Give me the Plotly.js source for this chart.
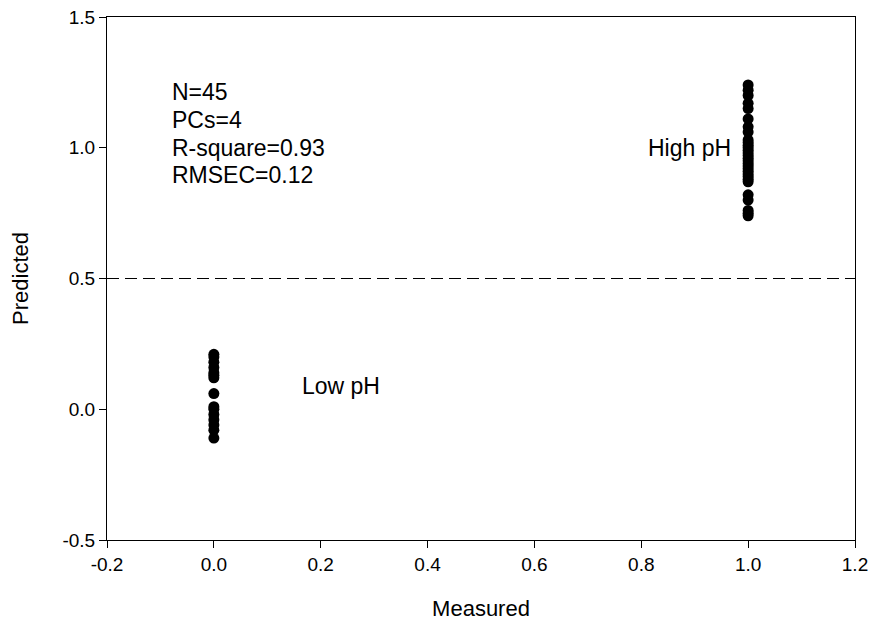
<!DOCTYPE html>
<html>
<head>
<meta charset="utf-8">
<script src="https://cdn.plot.ly/plotly-3.0.1.min.js"></script>
<style>html,body{margin:0;padding:0;background:#fff;}#chart{width:875px;height:631px;}</style>
</head>
<body>
<div id="chart"></div>
<script>
// Measured class (0 = low pH, 1 = high pH) and predicted values
const lowMeasured = 0;
const lowPredicted = [0.21, 0.20, 0.18, 0.16, 0.14, 0.13, 0.12, 0.06, 0.01, 0.00, -0.02, -0.04, -0.06, -0.08, -0.11];
const highMeasured = 1;
const highPredicted = [1.24, 1.22, 1.20, 1.17, 1.15, 1.11, 1.08, 1.06, 1.03, 1.02, 1.01, 1.00, 0.99, 0.98, 0.97,
                       0.96, 0.95, 0.94, 0.93, 0.92, 0.91, 0.90, 0.89, 0.88, 0.87, 0.82, 0.80, 0.76, 0.75, 0.74];
const threshold = 0.5;
const xTickVals = [-0.2, 0.0, 0.2, 0.4, 0.6, 0.8, 1.0, 1.2];
const xTickText = ["-0.2", "0.0", "0.2", "0.4", "0.6", "0.8", "1.0", "1.2"];
const yTickVals = [-0.5, 0.0, 0.5, 1.0, 1.5];
const yTickText = ["-0.5", "0.0", "0.5", "1.0", "1.5"];
const statsLines = ["N=45", "PCs=4", "R-square=0.93", "RMSEC=0.12"];

const font = "Liberation Sans, Arial, sans-serif";
const xs = [];
const ys = [];
lowPredicted.forEach(v => { xs.push(lowMeasured); ys.push(v); });
highPredicted.forEach(v => { xs.push(highMeasured); ys.push(v); });

const trace = {
  x: xs, y: ys, type: 'scatter', mode: 'markers',
  marker: {color: '#000', size: 11, line: {width: 0}},
  showlegend: false, hoverinfo: 'none'
};

const annSize = 23;
const statsY = [1.214, 1.107, 1.000, 0.897];
const annotations = statsLines.map((t, i) => ({
  text: t, x: -0.082, y: statsY[i], xref: 'x', yref: 'y',
  xanchor: 'left', yanchor: 'middle', showarrow: false,
  font: {family: font, size: annSize, color: '#000'}
}));
annotations.push({text: 'High pH', x: 0.890, y: 1.0, xref: 'x', yref: 'y', showarrow: false,
  xanchor: 'center', yanchor: 'middle', font: {family: font, size: annSize, color: '#000'}});
annotations.push({text: 'Low pH', x: 0.238, y: 0.089, xref: 'x', yref: 'y', showarrow: false,
  xanchor: 'center', yanchor: 'middle', font: {family: font, size: annSize, color: '#000'}});

const layout = {
  width: 875, height: 631,
  margin: {l: 107, r: 20, t: 17, b: 91},
  paper_bgcolor: '#fff', plot_bgcolor: '#fff',
  font: {family: font, color: '#000'},
  xaxis: {
    range: [-0.2, 1.2], tickvals: xTickVals, ticktext: xTickText,
    ticks: 'outside', ticklen: 7, tickwidth: 1, tickcolor: '#000',
    showline: true, linecolor: '#000', linewidth: 1, mirror: true,
    showgrid: false, zeroline: false,
    tickfont: {family: font, size: 19, color: '#000'},
    title: {text: 'Measured', font: {family: font, size: 22, color: '#000'}, standoff: 26}
  },
  yaxis: {
    range: [-0.5, 1.5], tickvals: yTickVals, ticktext: yTickText,
    ticks: 'outside', ticklen: 7, tickwidth: 1, tickcolor: '#000',
    showline: true, linecolor: '#000', linewidth: 1, mirror: true,
    showgrid: false, zeroline: false,
    tickfont: {family: font, size: 19, color: '#000'},
    title: {text: 'Predicted', font: {family: font, size: 22, color: '#000'}, standoff: 27}
  },
  shapes: [{
    type: 'line', xref: 'paper', x0: 0, x1: 1, yref: 'y', y0: threshold, y1: threshold,
    line: {color: '#000', width: 1, dash: '12px,6px'}
  }],
  annotations: annotations
};

Plotly.newPlot('chart', [trace], layout, {displayModeBar: false, staticPlot: true});
</script>
</body>
</html>
